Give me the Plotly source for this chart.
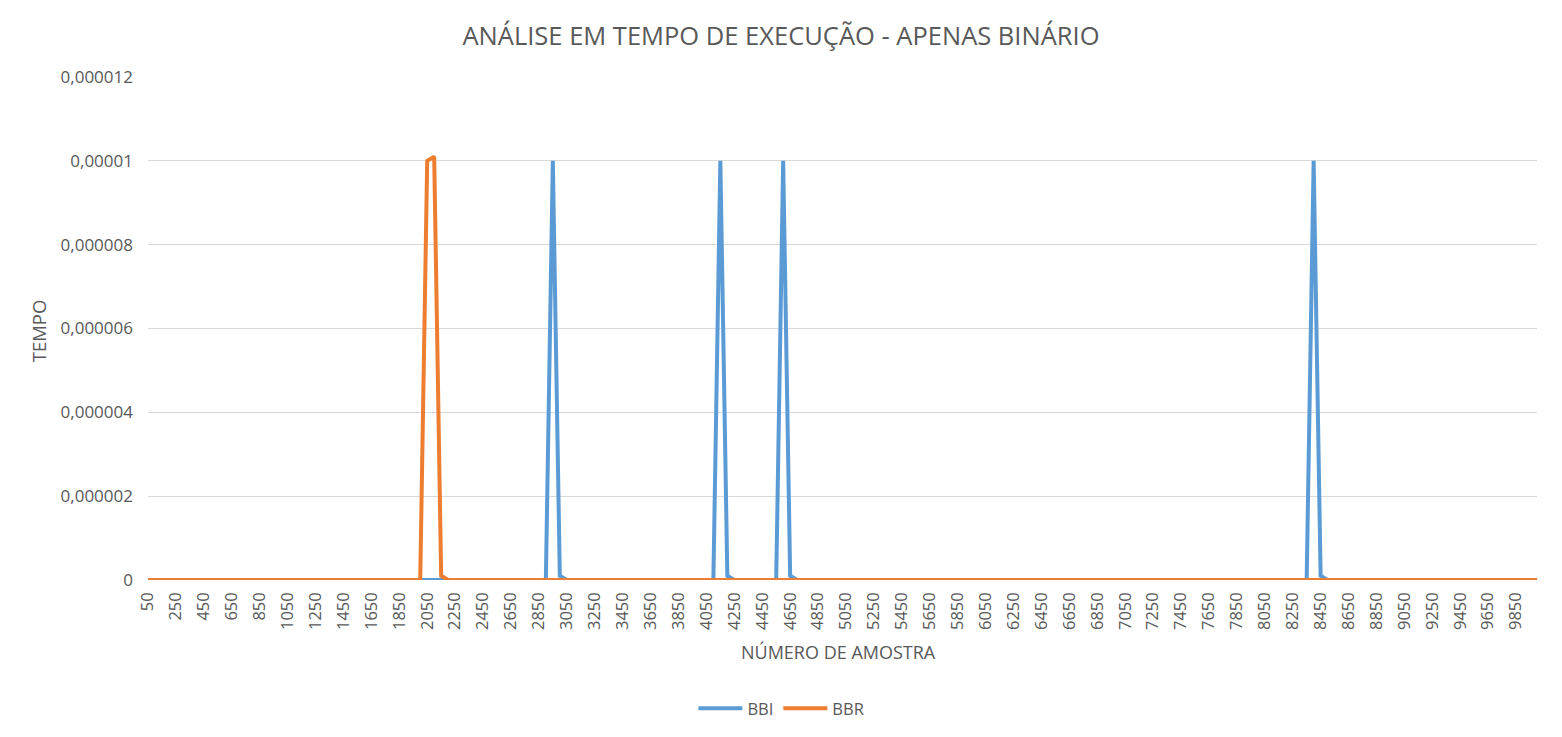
import plotly.graph_objects as go

# Sample numbers (categories): 50, 100, ..., 10000
samples = list(range(50, 10001, 50))

# Non-zero points (all other samples are 0)
bbi_peak_samples = [2950, 3000, 4150, 4200, 4600, 4650, 8400, 8450]
bbi_peak_values = [0.00001, 0.0000001, 0.00001, 0.0000001, 0.00001, 0.0000001, 0.00001, 0.0000001]

bbr_peak_samples = [2050, 2100, 2150]
bbr_peak_values = [0.00001, 0.0000101, 0.0000001]

y_tick_vals = [0, 0.000002, 0.000004, 0.000006, 0.000008, 0.00001, 0.000012]
y_tick_text = ["0", "0,000002", "0,000004", "0,000006", "0,000008", "0,00001", "0,000012"]

x_tick_vals = samples[::4]
x_tick_text = [str(s) for s in x_tick_vals]

bbi_map = dict(zip(bbi_peak_samples, bbi_peak_values))
bbr_map = dict(zip(bbr_peak_samples, bbr_peak_values))
bbi = [bbi_map.get(s, 0) for s in samples]
bbr = [bbr_map.get(s, 0) for s in samples]

FONT = "Open Sans"
GRAY = "#595959"

fig = go.Figure()
fig.add_trace(go.Scatter(x=samples, y=bbi, mode="lines", name="BBI",
                         line=dict(color="#5B9BD5", width=4)))
fig.add_trace(go.Scatter(x=samples, y=bbr, mode="lines", name="BBR",
                         line=dict(color="#ED7D31", width=4)))

fig.update_layout(
    width=1562, height=737,
    margin=dict(l=148, r=25, t=77, b=156),
    paper_bgcolor="white", plot_bgcolor="white",
    font=dict(family=FONT, color=GRAY, size=16),
    title=dict(text="ANÁLISE EM TEMPO DE EXECUÇÃO - APENAS BINÁRIO",
               x=0.5, xref="container", xanchor="center",
               y=0.951, yref="container", yanchor="middle",
               font=dict(size=25.5, color=GRAY, family=FONT)),
    showlegend=True,
    legend=dict(orientation="h", x=0.456, xanchor="center", y=-0.253, yanchor="middle",
                font=dict(size=16.5, color=GRAY), itemwidth=44),
    xaxis=dict(range=[50, 10000], tickmode="array", tickvals=x_tick_vals, ticktext=x_tick_text,
               tickangle=-90, showgrid=False, zeroline=False, showline=False,
               ticks="", ticklabelstandoff=8, tickfont=dict(size=16.5, color=GRAY)),
    yaxis=dict(range=[0, 0.000012], tickmode="array", tickvals=y_tick_vals, ticktext=y_tick_text,
               showgrid=True, gridcolor="#d9d9d9", gridwidth=1, zeroline=False, showline=False,
               ticks="", ticklabelstandoff=14, tickfont=dict(size=17, color=GRAY)),
    annotations=[
        dict(text="NÚMERO DE AMOSTRA", xref="paper", yref="paper", x=0.497, y=-0.143,
             xanchor="center", yanchor="middle", showarrow=False,
             font=dict(size=18, color=GRAY)),
        dict(text="TEMPO", xref="paper", yref="paper", x=-0.079, y=0.495, textangle=-90,
             xanchor="center", yanchor="middle", showarrow=False,
             font=dict(size=18.5, color=GRAY)),
    ],
)

fig.write_html("out.html")
